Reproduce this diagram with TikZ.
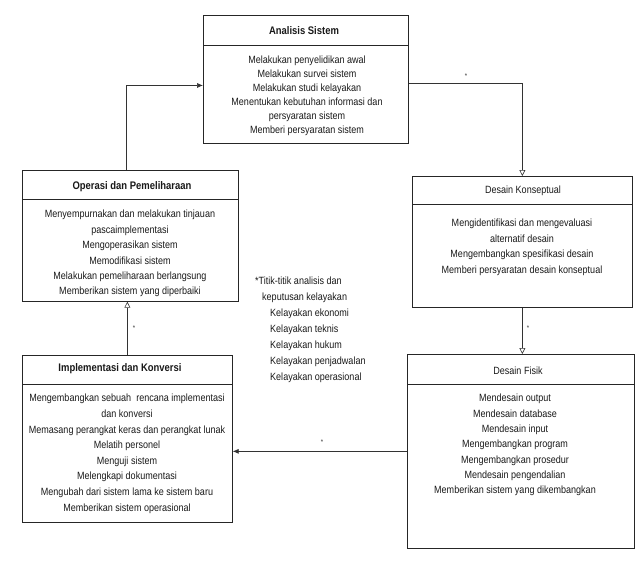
\documentclass[tikz,border=0pt]{standalone}
\usepackage{fontspec}
\setmainfont{Liberation Sans}[FakeStretch=0.86]
\usetikzlibrary{arrows.meta}
\begin{document}
\begin{tikzpicture}[x=1pt,y=-1pt,
 box/.style={draw=black!85, line width=0.7pt, rectangle, inner sep=0pt, anchor=north west},
 hdr/.style={draw=black!85, line width=0.7pt},
 ttl/.style={inner sep=0pt, text=black!90},
 body/.style={align=center, inner sep=0pt, anchor=north, text=black!90},
 conn/.style={draw=black!80, line width=0.6pt},
 fillarr/.style={-{Latex[length=6pt,width=5pt]}},
 openarr/.style={-{Triangle[open,length=6pt,width=6pt]}},
 star/.style={font=\fontsize{7}{8}\selectfont, inner sep=0pt, text=black!80}]
\useasboundingbox (0,0) rectangle (640,566);

% boxes
\node[box, line width=0.9pt, minimum width=205, minimum height=128] (A) at (203,15) {};
\node[box, minimum width=216, minimum height=131] (O) at (22,170) {};
\node[box, minimum width=220, minimum height=131] (K) at (412,176) {};
\node[box, minimum width=210, minimum height=167] (I) at (22,355) {};
\node[box, minimum width=227, minimum height=194] (F) at (407,354) {};

% header lines
\draw[hdr] (A.west |- 0,45) -- (A.east |- 0,45);
\draw[hdr] (O.west |- 0,199) -- (O.east |- 0,199);
\draw[hdr] (K.west |- 0,204) -- (K.east |- 0,204);
\draw[hdr] (I.west |- 0,384) -- (I.east |- 0,384);
\draw[hdr] (F.west |- 0,384) -- (F.east |- 0,384);

% titles
\node[ttl, font=\fontsize{11}{12}\selectfont\bfseries] (At) at (304,31) {Analisis Sistem};
\node[ttl, font=\fontsize{11}{12}\selectfont\bfseries] (Ot) at (132,187) {Operasi dan Pemeliharaan};
\node[ttl, font=\fontsize{10.5}{12}\selectfont] (Kt) at (523,191) {Desain Konseptual};
\node[ttl, font=\fontsize{11}{12}\selectfont\bfseries] (It) at (120,369) {Implementasi dan Konversi};
\node[ttl, font=\fontsize{10.5}{12}\selectfont] (Ft) at (518,371) {Desain Fisik};

% bodies
\node[body, font=\fontsize{10.5}{14}\selectfont] (Ab) at (307,56) {Melakukan penyelidikan awal\\Melakukan survei sistem\\Melakukan studi kelayakan\\Menentukan kebutuhan informasi dan\\persyaratan sistem\\Memberi persyaratan sistem};
\node[body, font=\fontsize{10.5}{15.4}\selectfont] (Ob) at (130,210) {Menyempurnakan dan melakukan tinjauan\\pascaimplementasi\\Mengoperasikan sistem\\Memodifikasi sistem\\Melakukan pemeliharaan berlangsung\\Memberikan sistem yang diperbaiki};
\node[body, font=\fontsize{10.5}{15.5}\selectfont] (Kb) at (522,219) {Mengidentifikasi dan mengevaluasi\\alternatif desain\\Mengembangkan spesifikasi desain\\Memberi persyaratan desain konseptual};
\node[body, font=\fontsize{10.5}{15.6}\selectfont] (Ib) at (127,394) {Mengembangkan sebuah\ \ rencana implementasi\\dan konversi\\Memasang perangkat keras dan perangkat lunak\\Melatih personel\\Menguji sistem\\Melengkapi dokumentasi\\Mengubah dari sistem lama ke sistem baru\\Memberikan sistem operasional};
\node[body, font=\fontsize{10.5}{15.3}\selectfont] (Fb) at (515,394) {Mendesain output\\Mendesain database\\Mendesain input\\Mengembangkan program\\Mengembangkan prosedur\\Mendesain pengendalian\\Memberikan sistem yang dikembangkan};

% middle note
\node[align=left, anchor=north west, inner sep=0pt, text=black!90, font=\fontsize{10.5}{16}\selectfont] (N) at (255,277) {*Titik-titik analisis dan\\\hspace*{7pt}keputusan kelayakan\\\hspace*{15pt}Kelayakan ekonomi\\\hspace*{15pt}Kelayakan teknis\\\hspace*{15pt}Kelayakan hukum\\\hspace*{15pt}Kelayakan penjadwalan\\\hspace*{15pt}Kelayakan operasional};

% connectors
\draw[conn,fillarr] ([xshift=-4pt]O.north) |- ([yshift=-6pt]A.west);
\draw[conn,openarr] ([yshift=-4pt]A.east) -| (K.north);
\draw[conn,openarr] (K.south) -- (K.south |- F.north);
\draw[conn,fillarr] (F.west) -- (F.west -| I.east);
\draw[conn,openarr] (I.north) -- (I.north |- O.south);

% stars
\node[star] (s1) at (466,76) {*};
\node[star] (s2) at (528,328) {*};
\node[star] (s3) at (322,442) {*};
\node[star] (s4) at (134,328) {*};
\end{tikzpicture}
\end{document}
